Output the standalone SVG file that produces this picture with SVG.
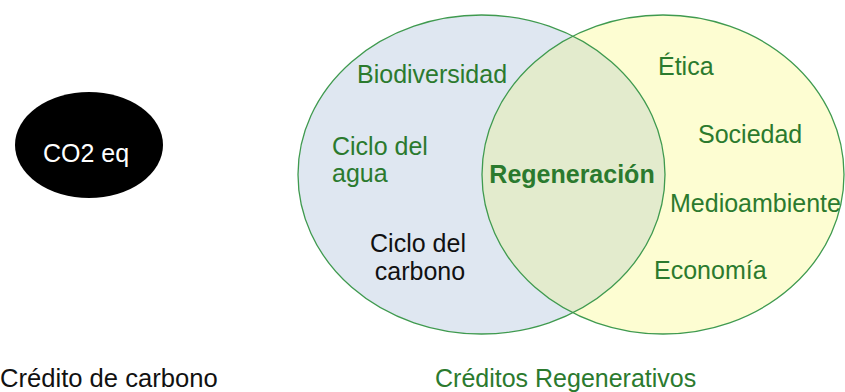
<svg xmlns="http://www.w3.org/2000/svg" width="845" height="392" viewBox="0 0 845 392">
<style>
text{font-family:"Liberation Sans",Arial,sans-serif;font-size:25px}
.g{fill:#2b7a2e}
.k{fill:#111}
.w{fill:#fff}
.b{font-weight:bold}
.ring{fill:none;stroke:#3f9a4f;stroke-width:1.3}
</style>
<defs>
<clipPath id="clipL"><ellipse cx="481.5" cy="174.5" rx="183.5" ry="159.5"/></clipPath>
</defs>
<rect width="845" height="392" fill="#fff"/>
<g id="co2">
<ellipse cx="89" cy="145" rx="74" ry="53" fill="#000"/>
<text class="w" x="86" y="162" text-anchor="middle">CO2 eq</text>
</g>
<g id="venn-left">
<ellipse cx="481.5" cy="174.5" rx="183.5" ry="159.5" fill="#dfe7f1"/>
</g>
<g id="venn-right">
<ellipse cx="663" cy="174.5" rx="181" ry="159.5" fill="#fdfdd2"/>
</g>
<g id="venn-overlap">
<ellipse cx="663" cy="174.5" rx="181" ry="159.5" fill="#e3ebcd" clip-path="url(#clipL)"/>
</g>
<g id="outlines">
<ellipse class="ring" cx="481.5" cy="174.5" rx="183.5" ry="159.5"/>
<ellipse class="ring" cx="663" cy="174.5" rx="181" ry="159.5"/>
</g>
<g id="labels-left">
<text class="g" x="357" y="83">Biodiversidad</text>
<text class="g" x="332" y="155">Ciclo del</text>
<text class="g" x="332" y="182">agua</text>
<text class="k" x="418" y="252" text-anchor="middle">Ciclo del</text>
<text class="k" x="420" y="280" text-anchor="middle">carbono</text>
</g>
<g id="label-center">
<text class="g b" x="572" y="183" text-anchor="middle">Regeneración</text>
</g>
<g id="labels-right">
<text class="g" x="658" y="75">Ética</text>
<text class="g" x="698" y="143">Sociedad</text>
<text class="g" x="670" y="212">Medioambiente</text>
<text class="g" x="654" y="279">Economía</text>
</g>
<g id="captions">
<text class="k" x="0" y="387" style="font-size:25.6px">Crédito de carbono</text>
<text class="g" x="435" y="387">Créditos Regenerativos</text>
</g>
</svg>
